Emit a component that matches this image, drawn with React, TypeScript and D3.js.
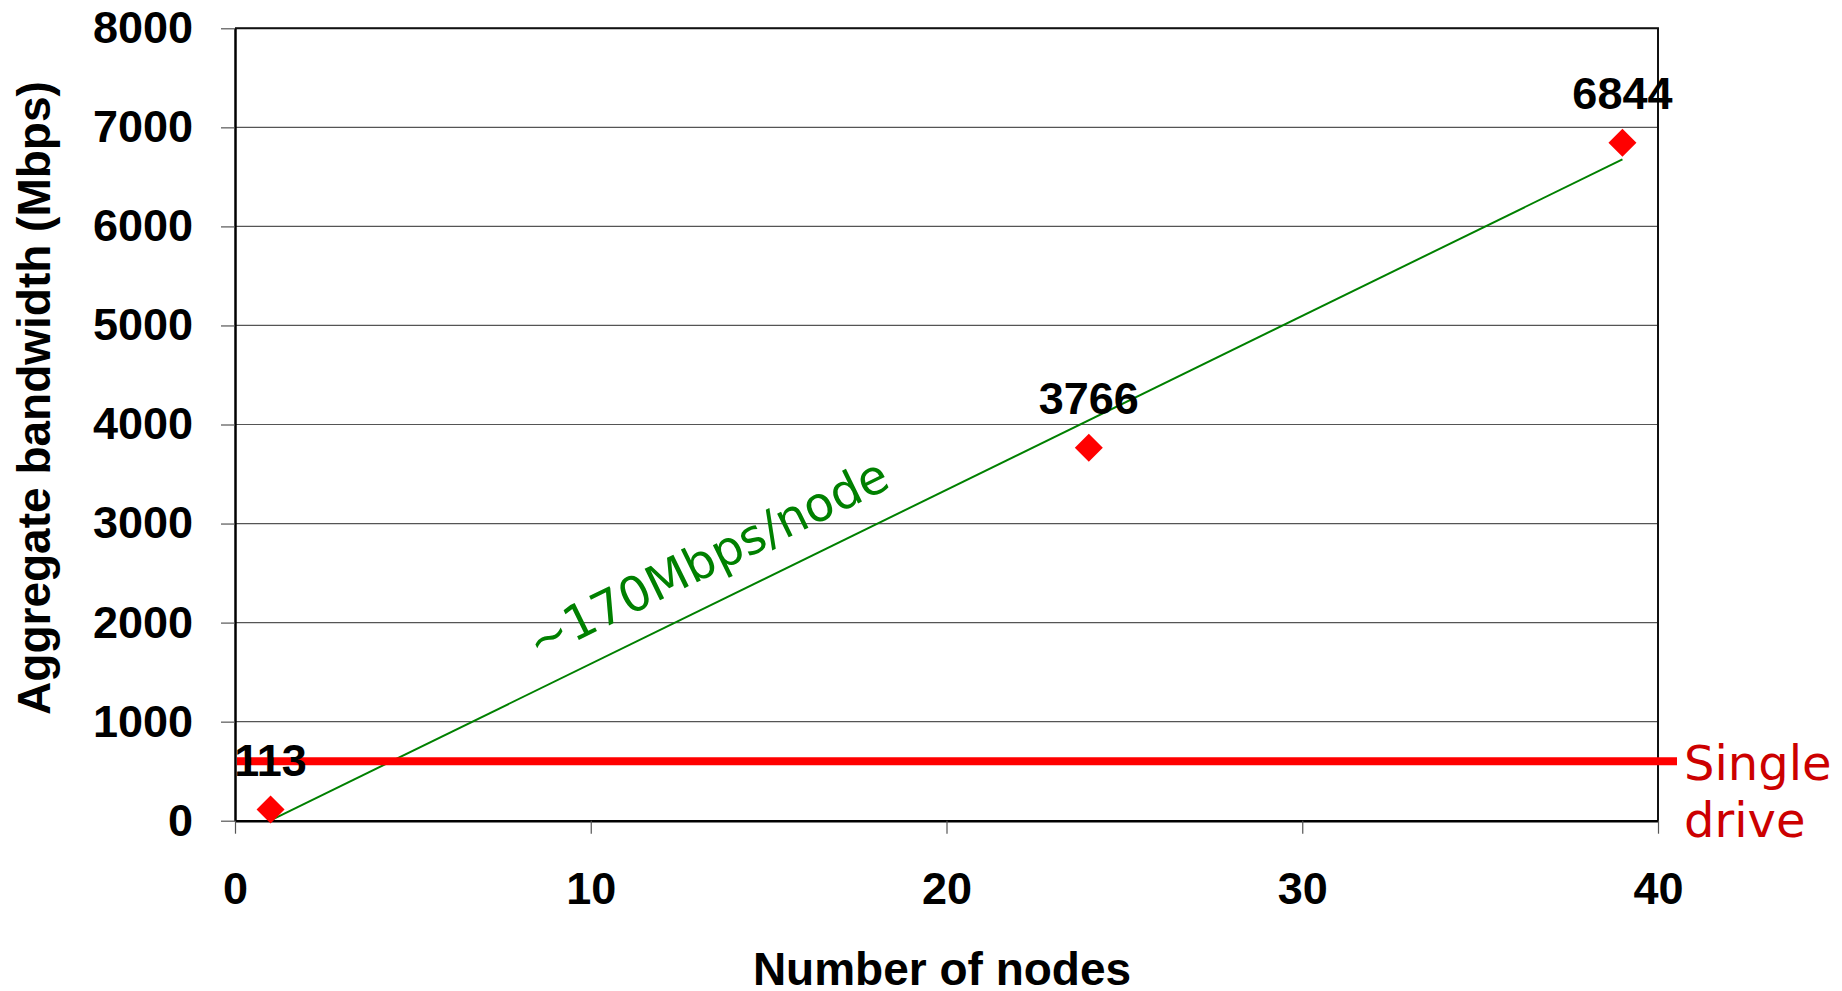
import React, { useEffect, useRef } from 'react';
import * as d3 from 'd3';

// measured points
const nodes = [1, 24, 39];
const bandwidth = [113, 3766, 6844];
const singleDrive = 600;
const xTicks = [0, 10, 20, 30, 40];
const yTicks = [0, 1000, 2000, 3000, 4000, 5000, 6000, 7000, 8000];
const slopeLabel = '~170Mbps/node';
const slopeLabelAt = [8.5, 1620];
const driveLabel = ['Single', 'drive'];

const W = 1842;
const H = 991;

const App: React.FC = () => {
    const svgRef = useRef<SVGSVGElement | null>(null);

    useEffect(() => {
        if (!svgRef.current) return;
        document.body.style.margin = '0';
        const svg = d3.select(svgRef.current);
        svg.selectAll('*').remove();

        const margin = { top: 28.3, right: W - 1658, bottom: H - 820.7, left: 235 };
        const x = d3.scaleLinear().domain([0, 40]).range([margin.left, W - margin.right]);
        const y = d3.scaleLinear().domain([0, 8000]).range([H - margin.bottom, margin.top]);
        const boldFont = '"Liberation Sans", Arial, sans-serif';
        const thinFont = '"DejaVu Sans", Verdana, sans-serif';

        // grid lines
        svg.append('g')
            .selectAll('line')
            .data(yTicks.filter((d) => d > 0))
            .enter()
            .append('line')
            .attr('x1', x(0))
            .attr('x2', x(40))
            .attr('y1', (d) => y(d))
            .attr('y2', (d) => y(d))
            .style('stroke', '#555')
            .style('stroke-width', '1.2px');

        // right + top border
        svg.append('path')
            .attr('d', `M${x(0)},${y(8000)}H${x(40)}V${y(0)}`)
            .style('fill', 'none')
            .style('stroke', '#111')
            .style('stroke-width', '2px');

        // axes
        const yAxis = svg.append('g')
            .attr('transform', `translate(${x(0)},0)`)
            .call(d3.axisLeft(y).tickValues(yTicks).tickSize(14).tickSizeOuter(0).tickPadding(28).tickFormat(d3.format('d')));
        const xAxis = svg.append('g')
            .attr('transform', `translate(0,${y(0)})`)
            .call(d3.axisBottom(x).tickValues(xTicks).tickSize(13).tickSizeOuter(0).tickPadding(38).tickFormat(d3.format('d')));

        [yAxis, xAxis].forEach((g) => {
            g.select('.domain').style('stroke', '#000').style('stroke-width', '2.5px');
            g.selectAll('.tick line').style('stroke', '#555').style('stroke-width', '1.2px');
            g.selectAll('.tick text')
                .style('font-family', boldFont)
                .style('font-weight', 'bold')
                .style('font-size', '45px')
                .style('fill', '#000');
        });

        // axis titles
        svg.append('text')
            .attr('x', 942)
            .attr('y', 985)
            .attr('text-anchor', 'middle')
            .style('font-family', boldFont)
            .style('font-weight', 'bold')
            .style('font-size', '46px')
            .text('Number of nodes');

        svg.append('text')
            .attr('transform', `translate(50,${398}) rotate(-90)`)
            .attr('text-anchor', 'middle')
            .style('font-family', boldFont)
            .style('font-weight', 'bold')
            .style('font-size', '46px')
            .text('Aggregate bandwidth (Mbps)');

        // least squares trend line
        const mx = d3.mean(nodes) as number;
        const my = d3.mean(bandwidth) as number;
        const sxy = d3.sum(nodes, (n, i) => (n - mx) * (bandwidth[i] - my));
        const sxx = d3.sum(nodes, (n) => (n - mx) * (n - mx));
        const slope = sxy / sxx;
        const icpt = my - slope * mx;
        const fit = (n: number) => icpt + slope * n;
        const x0 = nodes[0];
        const x1 = nodes[nodes.length - 1];

        svg.append('line')
            .attr('x1', x(x0))
            .attr('y1', y(fit(x0)))
            .attr('x2', x(x1))
            .attr('y2', y(fit(x1)))
            .style('stroke', '#008000')
            .style('stroke-width', '2px');

        const angle = (Math.atan2(y(fit(x1)) - y(fit(x0)), x(x1) - x(x0)) * 180) / Math.PI;
        svg.append('text')
            .attr('transform', `translate(${x(slopeLabelAt[0])},${y(slopeLabelAt[1])}) rotate(${angle})`)
            .style('font-family', thinFont)
            .style('font-size', '48px')
            .style('fill', '#008000')
            .text(slopeLabel);

        // single drive line
        svg.append('line')
            .attr('x1', x(0) + 2)
            .attr('x2', x(40) + 19)
            .attr('y1', y(singleDrive))
            .attr('y2', y(singleDrive))
            .style('stroke', '#FF0000')
            .style('stroke-width', '8px');

        svg.append('g')
            .selectAll('text')
            .data(driveLabel)
            .enter()
            .append('text')
            .attr('x', x(40) + 26)
            .attr('y', (d, i) => y(singleDrive) + 19 + i * 56.7)
            .style('font-family', thinFont)
            .style('font-size', '48px')
            .style('fill', '#CC0000')
            .text((d) => d);

        // points
        const diamond = d3.symbol().type(d3.symbolSquare).size(392);
        svg.append('g')
            .selectAll('path')
            .data(nodes)
            .enter()
            .append('path')
            .attr('d', diamond() as string)
            .attr('transform', (d, i) => `translate(${x(d)},${y(bandwidth[i])}) rotate(45)`)
            .style('fill', '#FF0000');

        svg.append('g')
            .selectAll('text')
            .data(nodes)
            .enter()
            .append('text')
            .attr('x', (d) => x(d))
            .attr('y', (d, i) => y(bandwidth[i]) - 34)
            .attr('text-anchor', 'middle')
            .style('font-family', boldFont)
            .style('font-weight', 'bold')
            .style('font-size', '45px')
            .text((d, i) => bandwidth[i]);
    }, []);

    return (
        <svg
            ref={svgRef}
            width={W}
            height={H}
            style={{ position: 'absolute', left: 0, top: 0, display: 'block', background: '#fff' }}
        />
    );
};

export default App;
